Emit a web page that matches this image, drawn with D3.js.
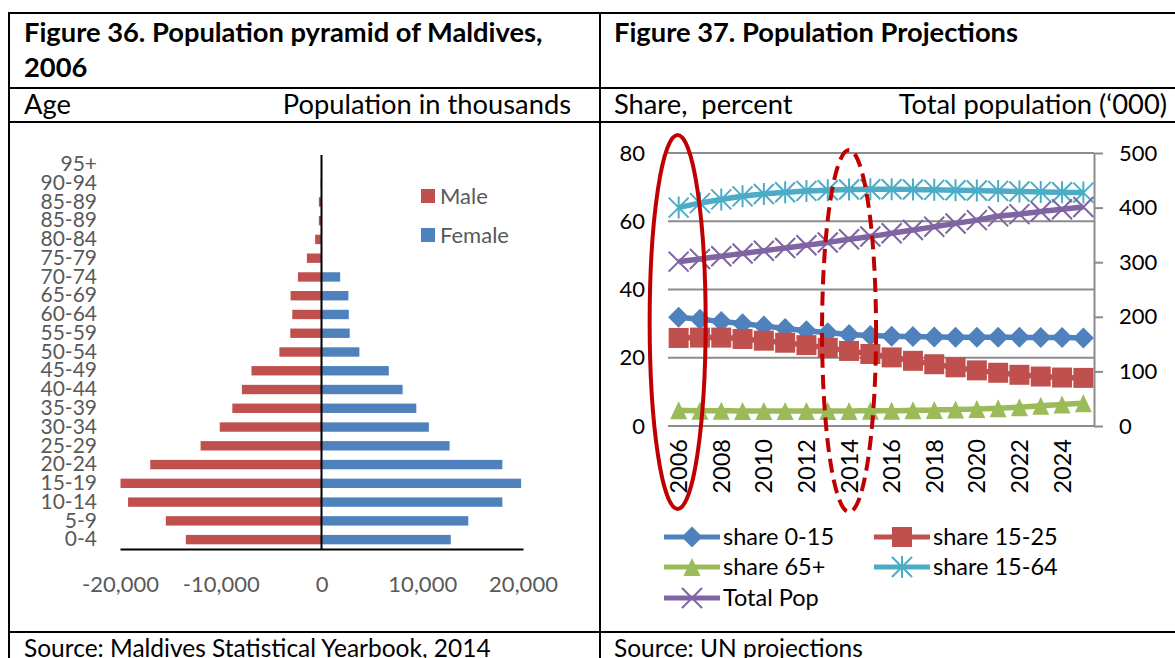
<!DOCTYPE html>
<html>
<head>
<meta charset="utf-8">
<script src="https://cdn.jsdelivr.net/npm/d3@7"></script>
<style>
body { margin: 0; background: #fff; }
svg { display: block; font-family: Lato, 'Open Sans', sans-serif; }
</style>
</head>
<body>
<svg id="page" width="1175" height="658"></svg>
<script>
// Figure 36 - population pyramid, 2006
const ageGroups = ['95+', '90-94', '85-89', '85-89', '80-84', '75-79', '70-74', '65-69', '60-64', '55-59',
    '50-54', '45-49', '40-44', '35-39', '30-34', '25-29', '20-24', '15-19', '10-14', '5-9', '0-4'];
const maleValues = [0, 80, 260, 260, 630, 1450, 2340, 3070, 2900, 3100,
    4180, 6950, 7900, 8850, 10100, 12000, 17000, 19950, 19200, 15450, 13470];
const femaleValues = [0, 0, 0, 0, 0, 0, 1850, 2670, 2710, 2800,
    3760, 6680, 8050, 9410, 10660, 12710, 17950, 19810, 17950, 14570, 12830];
const pyramidTicks = [-20000, -10000, 0, 10000, 20000];

// Figure 37 - projections
const years = ['2006', '2007', '2008', '2009', '2010', '2011', '2012', '2013', '2014', '2015',
    '2016', '2017', '2018', '2019', '2020', '2021', '2022', '2023', '2024', '2025'];
const yearLabels = ['2006', '2008', '2010', '2012', '2014', '2016', '2018', '2020', '2022', '2024'];
const share0to15 = [31.9, 31.3, 30.6, 30.0, 29.3, 28.6, 27.9, 27.3, 26.8, 26.5,
    26.3, 26.2, 26.1, 26.0, 26.0, 26.0, 26.0, 25.9, 25.9, 25.8];
const share15to25 = [25.8, 25.9, 25.9, 25.5, 25.0, 24.4, 23.7, 22.9, 22.0, 21.1,
    20.1, 19.1, 18.1, 17.2, 16.3, 15.6, 15.0, 14.5, 14.2, 14.1];
const share65plus = [4.6, 4.5, 4.5, 4.4, 4.4, 4.4, 4.4, 4.4, 4.4, 4.5,
    4.5, 4.6, 4.7, 4.8, 5.0, 5.2, 5.5, 5.9, 6.3, 6.7];
const share15to64 = [64.0, 65.3, 66.4, 67.3, 68.0, 68.5, 68.9, 69.1, 69.3, 69.4,
    69.4, 69.3, 69.2, 69.1, 69.0, 68.9, 68.7, 68.6, 68.5, 68.4];
const totalPop = [301, 306, 311, 316, 321, 326, 331, 336, 342, 347,
    353, 359, 365, 371, 377, 384, 388, 393, 397, 401];
const shareTicks = [0, 20, 40, 60, 80];
const popTicks = [0, 100, 200, 300, 400, 500];

const RED = '#C0504D', BLUE = '#4F81BD', GREEN = '#9BBB59', CYAN = '#4BACC6', PURPLE = '#8064A2';

const svg = d3.select('#page');
drawTable(svg);
drawPyramid(svg);
drawProjections(svg);

function drawTable(svg) {
    const g = svg.append('g').attr('stroke', '#000').attr('stroke-width', 2);
    [13, 88, 122, 632].forEach(y => {
        g.append('line').attr('x1', 8).attr('x2', 1175).attr('y1', y).attr('y2', y);
    });
    [9, 600].forEach(x => {
        g.append('line').attr('x1', x).attr('x2', x).attr('y1', 12).attr('y2', 658);
    });

    const t = svg.append('g').attr('fill', '#000');
    const title = t.append('g').style('font-size', '27.3px').style('font-weight', 'bold');
    title.append('text').attr('x', 24).attr('y', 42).text('Figure 36. Population pyramid of Maldives,');
    title.append('text').attr('x', 24).attr('y', 77).text('2006');
    title.append('text').attr('x', 614).attr('y', 42).text('Figure 37. Population Projections');

    const sub = t.append('g').style('font-size', '27.3px');
    sub.append('text').attr('x', 24).attr('y', 114).text('Age');
    sub.append('text').attr('x', 571).attr('y', 114).attr('text-anchor', 'end').text('Population in thousands');
    sub.append('text').attr('x', 614).attr('y', 114).style('white-space', 'pre').text('Share,  percent');
    sub.append('text').attr('x', 1167).attr('y', 114).attr('text-anchor', 'end').text('Total population (\u2018000)');

    const src = t.append('g').style('font-size', '24.5px');
    src.append('text').attr('x', 24).attr('y', 657).text('Source: Maldives Statistical Yearbook, 2014');
    src.append('text').attr('x', 614).attr('y', 657).text('Source: UN projections');
}

function drawPyramid(svg) {
    const x = d3.scaleLinear().domain([-20000, 20000]).range([120, 523]);
    const y = d3.scaleBand().domain(d3.range(ageGroups.length)).range([155, 549]).paddingInner(0.5).paddingOuter(0.25);
    const g = svg.append('g');

    // male to the left
    g.selectAll('rect.male').data(maleValues).enter().append('rect')
        .attr('class', 'male')
        .attr('x', d => x(-d))
        .attr('y', (d, i) => y(i))
        .attr('width', d => x(0) - x(-d))
        .attr('height', y.bandwidth())
        .attr('fill', RED);

    // female to the right
    g.selectAll('rect.female').data(femaleValues).enter().append('rect')
        .attr('class', 'female')
        .attr('x', x(0))
        .attr('y', (d, i) => y(i))
        .attr('width', d => x(d) - x(0))
        .attr('height', y.bandwidth())
        .attr('fill', BLUE);

    const yAxis = d3.axisLeft(y).tickSize(0).tickPadding(0).tickFormat(i => ageGroups[i]);
    const ya = g.append('g').attr('transform', 'translate(97,0)').call(yAxis);
    ya.select('.domain').remove();
    ya.selectAll('text').attr('fill', '#595959').style('font-size', '21px').style('font-family', 'Lato, sans-serif');

    const fmt = d3.formatLocale({ decimal: '.', thousands: ',', grouping: [3], currency: ['', ''], minus: '-' }).format(',');
    const xAxis = d3.axisBottom(x).tickValues(pyramidTicks).tickSize(0).tickPadding(27).tickFormat(fmt);
    const xa = g.append('g').attr('transform', 'translate(0,549)').call(xAxis);
    xa.select('.domain').attr('stroke', '#000').attr('stroke-width', 2);
    xa.selectAll('text').attr('fill', '#595959').style('font-size', '22px').style('font-family', 'Lato, sans-serif');

    g.append('line')
        .attr('x1', x(0)).attr('x2', x(0))
        .attr('y1', 155).attr('y2', 549)
        .attr('stroke', '#000').attr('stroke-width', 2);

    const legend = g.append('g').style('font-size', '22px').attr('fill', '#595959');
    [['Male', RED], ['Female', BLUE]].forEach((item, i) => {
        legend.append('rect').attr('x', 421).attr('y', 189 + i * 39).attr('width', 14).attr('height', 14).attr('fill', item[1]);
        legend.append('text').attr('x', 440).attr('y', 196 + i * 39).attr('dy', '0.36em').text(item[0]);
    });
}

function markerPath(type) {
    const r = 10;
    if (type === 'diamond') return `M0,${-r - 0.5}L${r + 0.5},0L0,${r + 0.5}L${-r - 0.5},0Z`;
    if (type === 'square') return `M${-r},${-r}H${r}V${r}H${-r}Z`;
    if (type === 'triangle') return `M0,-9L8.5,9L-8.5,9Z`;
    if (type === 'star') return `M${-r},${-r}L${r},${r}M${r},${-r}L${-r},${r}M0,${-r - 1}V${r + 1}`;
    return `M${-r},${-r}L${r},${r}M${r},${-r}L${-r},${r}`;
}

function drawProjections(svg) {
    const x = d3.scaleBand().domain(years).range([668, 1094]);
    const yShare = d3.scaleLinear().domain([0, 80]).range([426, 153]);
    const yPop = d3.scaleLinear().domain([0, 500]).range([426, 153]);
    const cx = yr => x(yr) + x.bandwidth() / 2;
    const g = svg.append('g');

    // gridlines
    g.selectAll('line.grid').data(shareTicks).enter().append('line')
        .attr('class', 'grid')
        .attr('x1', 668).attr('x2', 1094)
        .attr('y1', d => yShare(d)).attr('y2', d => yShare(d))
        .attr('stroke', '#8c8c8c').attr('stroke-width', 2);

    const leftAxis = g.append('g').attr('transform', 'translate(668,0)')
        .call(d3.axisLeft(yShare).tickValues(shareTicks).tickSize(0).tickPadding(23));
    leftAxis.select('.domain').remove();

    const rightAxis = g.append('g').attr('transform', 'translate(1094,0)')
        .call(d3.axisRight(yPop).tickValues(popTicks).tickSize(9).tickSizeOuter(0).tickPadding(16));
    rightAxis.select('.domain').attr('stroke', '#8c8c8c').attr('stroke-width', 2);
    rightAxis.selectAll('.tick line').attr('stroke', '#8c8c8c').attr('stroke-width', 2);

    const bottomAxis = g.append('g').attr('transform', 'translate(0,426)')
        .call(d3.axisBottom(x).tickValues(yearLabels).tickSize(0));
    bottomAxis.select('.domain').remove();

    [leftAxis, rightAxis, bottomAxis].forEach(a => a.selectAll('text')
        .attr('fill', '#000').style('font-size', '22px').style('font-family', 'Lato, sans-serif'));
    bottomAxis.selectAll('text')
        .style('font-size', '23.5px')
        .attr('transform', 'rotate(-90)')
        .attr('x', -13).attr('y', 0).attr('dy', '0.36em')
        .style('text-anchor', 'end');

    const series = [
        { name: 'share 0-15', values: share0to15, color: BLUE, marker: 'diamond', y: yShare },
        { name: 'share 15-25', values: share15to25, color: RED, marker: 'square', y: yShare },
        { name: 'share 65+', values: share65plus, color: GREEN, marker: 'triangle', y: yShare },
        { name: 'share 15-64', values: share15to64, color: CYAN, marker: 'star', y: yShare },
        { name: 'Total Pop', values: totalPop, color: PURPLE, marker: 'cross', y: yPop }
    ];

    series.forEach(s => {
        const line = d3.line()
            .x((d, i) => cx(years[i]))
            .y(d => s.y(d))
            .curve(d3.curveMonotoneX);
        g.append('path').datum(s.values)
            .attr('d', line)
            .attr('fill', 'none')
            .attr('stroke', s.color)
            .attr('stroke-width', 5.5);
        const stroked = s.marker === 'star' || s.marker === 'cross';
        g.selectAll(null).data(s.values).enter().append('path')
            .attr('transform', (d, i) => 'translate(' + cx(years[i]) + ',' + s.y(d) + ')')
            .attr('d', markerPath(s.marker))
            .attr('fill', stroked ? 'none' : s.color)
            .attr('stroke', s.color)
            .attr('stroke-width', stroked ? 2 : 0);
    });

    // highlighted years
    g.append('ellipse')
        .attr('cx', cx('2006') - 1).attr('cy', 322).attr('rx', 28).attr('ry', 187)
        .attr('fill', 'none').attr('stroke', '#C00000').attr('stroke-width', 4);
    g.append('ellipse')
        .attr('cx', cx('2014')).attr('cy', 331).attr('rx', 27).attr('ry', 181)
        .attr('fill', 'none').attr('stroke', '#C00000').attr('stroke-width', 4)
        .attr('stroke-dasharray', '14,7');

    // legend
    const legend = g.append('g').style('font-size', '23.5px');
    const slots = [[664, 537], [874, 537], [664, 567], [874, 567], [664, 598]];
    series.forEach((s, i) => {
        const [lx, ly] = slots[i];
        legend.append('line').attr('x1', lx).attr('x2', lx + 56).attr('y1', ly).attr('y2', ly)
            .attr('stroke', s.color).attr('stroke-width', 5);
        const stroked = s.marker === 'star' || s.marker === 'cross';
        legend.append('path')
            .attr('transform', 'translate(' + (lx + 28) + ',' + ly + ')')
            .attr('d', markerPath(s.marker))
            .attr('fill', stroked ? 'none' : s.color)
            .attr('stroke', s.color)
            .attr('stroke-width', stroked ? 2 : 0);
        legend.append('text').attr('x', lx + 59).attr('y', ly).attr('dy', '0.36em').attr('fill', '#000').text(s.name);
    });
}
</script>
</body>
</html>
